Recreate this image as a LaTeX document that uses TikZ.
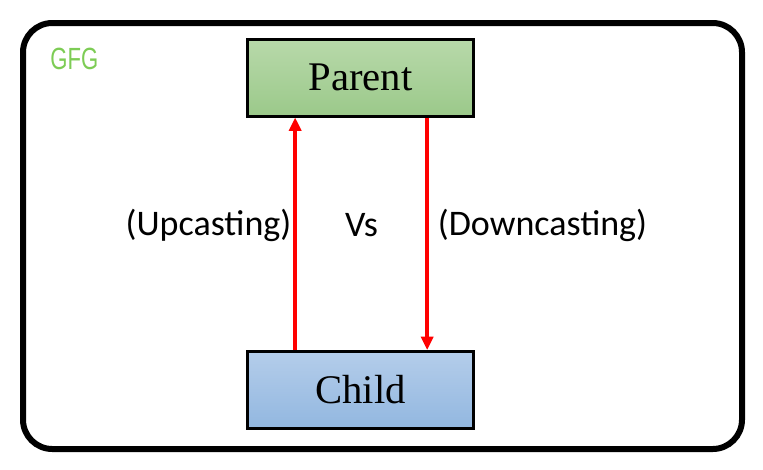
\documentclass[tikz,border=0pt]{standalone}
\usepackage{fontspec}
\setmainfont{Liberation Serif}
\newfontfamily\calibri{Carlito}
\newfontfamily\gfgfont{Liberation Sans}
\usetikzlibrary{arrows.meta,positioning}
\usepackage{xcolor}
\definecolor{gfggreen}{RGB}{125,204,85}
\definecolor{greentop}{RGB}{184,217,170}
\definecolor{greenbot}{RGB}{155,201,138}
\definecolor{bluetop}{RGB}{180,205,234}
\definecolor{bluebot}{RGB}{146,183,224}

\begin{document}
\begin{tikzpicture}[x=0.75pt,y=-0.75pt,
	main/.style = {draw, line width=2.25pt, minimum width=169.5pt, minimum height=57.75pt, inner sep=0pt, font=\fontsize{30.5}{34}\selectfont},
	lbl/.style = {font=\calibri\fontsize{27}{30}\selectfont, inner sep=0pt},
	cast/.style = {draw=red, line width=3pt, -{Triangle[width=9pt,length=10pt]}}]
		\useasboundingbox (0,0) rectangle (763,469);
		\draw[line width=4.5pt, rounded corners=22pt] (23,23) rectangle (742,449);
		\node[anchor=base west, gfggreen, font=\gfgfont\fontsize{23}{26}\selectfont, xscale=0.72, transform shape] (gfg) at (47,69) {GFG};
		\node[main, top color=greentop, bottom color=greenbot] (p) at (360.5,77.5) {Parent};
		\node[main, top color=bluetop, bottom color=bluebot] (c) at (360.5,390) {Child};
		\node[lbl] (up) at (208.5,225) {(Upcasting)};
		\node[lbl] (vs) at (361.5,225) {Vs};
		\node[lbl] (down) at (542.5,225) {(Downcasting)};
		\draw[cast] ([xshift=-49pt]c.north) -- ([xshift=-49pt]p.south);
		\draw[cast] ([xshift=50pt]p.south) -- ([xshift=50pt]c.north);
	\end{tikzpicture}
\end{document}
